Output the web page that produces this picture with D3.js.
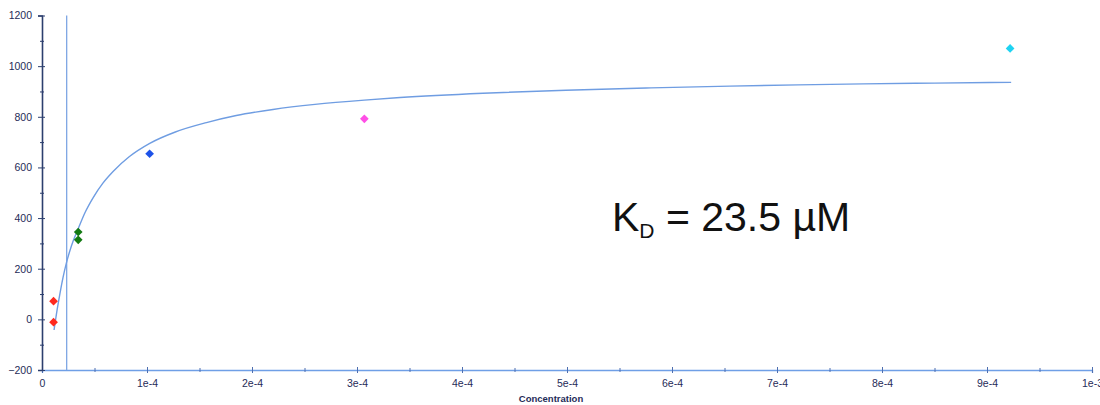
<!DOCTYPE html>
<html>
<head>
<meta charset="utf-8">
<script src="https://cdn.jsdelivr.net/npm/d3@7"></script>
<style>
  body { margin: 0; background: #fff; }
  svg { display: block; font-family: "Liberation Sans", Arial, sans-serif; }
  .tick text { fill: #1f2c58; font-size: 10.5px; }
</style>
</head>
<body>
<svg id="chart" width="1100" height="405"></svg>
<script>
// measured points (concentration in M, response)
const pointConc  = [1.1e-5, 1.1e-5, 3.45e-5, 3.45e-5, 1.025e-4, 3.07e-4, 9.22e-4];
const pointResp  = [72, -11, 345, 314, 654, 792, 1070];
const pointColor = ["#ff2a1f", "#ff2a1f", "#137a13", "#137a13", "#1d52e8", "#ff4fe6", "#1fd3f2"];

// fitted binding curve
const fitConc = [1.15e-5, 1.45e-5, 1.7e-5, 2.0e-5, 2.32e-5, 2.8e-5, 3.47e-5, 4.1e-5, 4.89e-5, 5.8e-5, 6.77e-5,
                 8.3e-5, 1.026e-4, 1.27e-4, 1.566e-4, 1.85e-4, 2.2e-4, 2.6e-4, 3.07e-4, 3.41e-4, 4.2e-4,
                 4.99e-4, 5.8e-4, 6.55e-4, 7.2e-4, 7.82e-4, 8.5e-4, 9.23e-4];
const fitResp = [-42, 40, 100, 165, 222, 290, 360, 422, 482, 538, 584,
                 642, 695, 740, 777, 805, 829, 849, 866, 876, 893,
                 905, 914, 921, 926, 930, 933, 936];

const kd = 2.35e-5;
const kdLabel = ["K", "D", " = 23.5 µM"];

const xMajor = [0, 1e-4, 2e-4, 3e-4, 4e-4, 5e-4, 6e-4, 7e-4, 8e-4, 9e-4, 1e-3];
const xMinor = [5e-5, 1.5e-4, 2.5e-4, 3.5e-4, 4.5e-4, 5.5e-4, 6.5e-4, 7.5e-4, 8.5e-4, 9.5e-4];
const yMajor = [-200, 0, 200, 400, 600, 800, 1000, 1200];
const yMinor = [-100, 100, 300, 500, 700, 900, 1100];
const xTitle = "Concentration";

const svg = d3.select("#chart");

const x = d3.scaleLinear().domain([0, 1e-3]).range([42, 1092]);
const y = d3.scaleLinear().domain([-200, 1200]).range([370, 15.5]);

function expFmt(d) {
  if (d === 0) return "0";
  const e = Math.floor(Math.log10(d) + 1e-9);
  return `${Math.round(d / Math.pow(10, e))}e${e}`;
}

// x axis
const xAxisG = svg.append("g")
  .attr("transform", `translate(0,${y(-200)})`)
  .call(d3.axisBottom(x).tickValues(xMajor).tickFormat(expFmt).tickSize(3).tickPadding(7));
xAxisG.select(".domain").attr("stroke", "#6f9fe6").attr("stroke-width", 1.3);
xAxisG.selectAll(".tick line").attr("y1", -3).attr("stroke", "#4f6fb0");

svg.append("g")
  .attr("transform", `translate(0,${y(-200)})`)
  .call(d3.axisBottom(x).tickValues(xMinor).tickFormat("").tickSize(2))
  .call(g => g.select(".domain").remove())
  .selectAll(".tick line").attr("y1", -2).attr("stroke", "#4f6fb0");

// y axis
const yAxisG = svg.append("g")
  .attr("transform", `translate(${x(0)},0)`)
  .call(d3.axisLeft(y).tickValues(yMajor).tickFormat(d3.format("d")).tickSize(4).tickPadding(6));
yAxisG.select(".domain").attr("stroke", "#2c3f6e").attr("stroke-width", 1.6);
yAxisG.selectAll(".tick line").attr("x1", 3).attr("x2", -4).attr("stroke", "#2c3f6e");

svg.append("g")
  .attr("transform", `translate(${x(0)},0)`)
  .call(d3.axisLeft(y).tickValues(yMinor).tickFormat("").tickSize(2))
  .call(g => g.select(".domain").remove())
  .selectAll(".tick line").attr("x1", 2).attr("stroke", "#2c3f6e");

// x title
svg.append("text")
  .attr("x", x(5e-4) - 16)
  .attr("y", 402)
  .attr("text-anchor", "middle")
  .attr("font-size", 9.5)
  .attr("font-weight", "bold")
  .attr("fill", "#1f2c58")
  .text(xTitle);

// KD marker line
svg.append("line")
  .attr("x1", x(kd)).attr("x2", x(kd))
  .attr("y1", y(1200)).attr("y2", y(-200))
  .attr("stroke", "#7ea6e4")
  .attr("stroke-width", 1.3);

// fit curve
const fitData = fitConc.map((c, i) => ({ c, r: fitResp[i] }));
svg.append("path")
  .datum(fitData)
  .attr("fill", "none")
  .attr("stroke", "#6f9de2")
  .attr("stroke-width", 1.4)
  .attr("d", d3.line().x(d => x(d.c)).y(d => y(d.r)).curve(d3.curveMonotoneX));

// data points
const pts = pointConc.map((c, i) => ({ c, r: pointResp[i], col: pointColor[i] }));
svg.selectAll(".pt")
  .data(pts)
  .join("path")
  .attr("class", "pt")
  .attr("d", d3.symbol().type(d3.symbolSquare).size(38))
  .attr("transform", d => `translate(${x(d.c)},${y(d.r)}) rotate(45)`)
  .attr("fill", d => d.col);

// KD annotation
const kdText = svg.append("text")
  .attr("x", 612)
  .attr("y", 231)
  .attr("font-size", 41)
  .attr("fill", "#111");
kdText.append("tspan").text(kdLabel[0]);
kdText.append("tspan").attr("font-size", 21).attr("dy", 7).text(kdLabel[1]);
kdText.append("tspan").attr("dy", -7).text(kdLabel[2]);
</script>
</body>
</html>
